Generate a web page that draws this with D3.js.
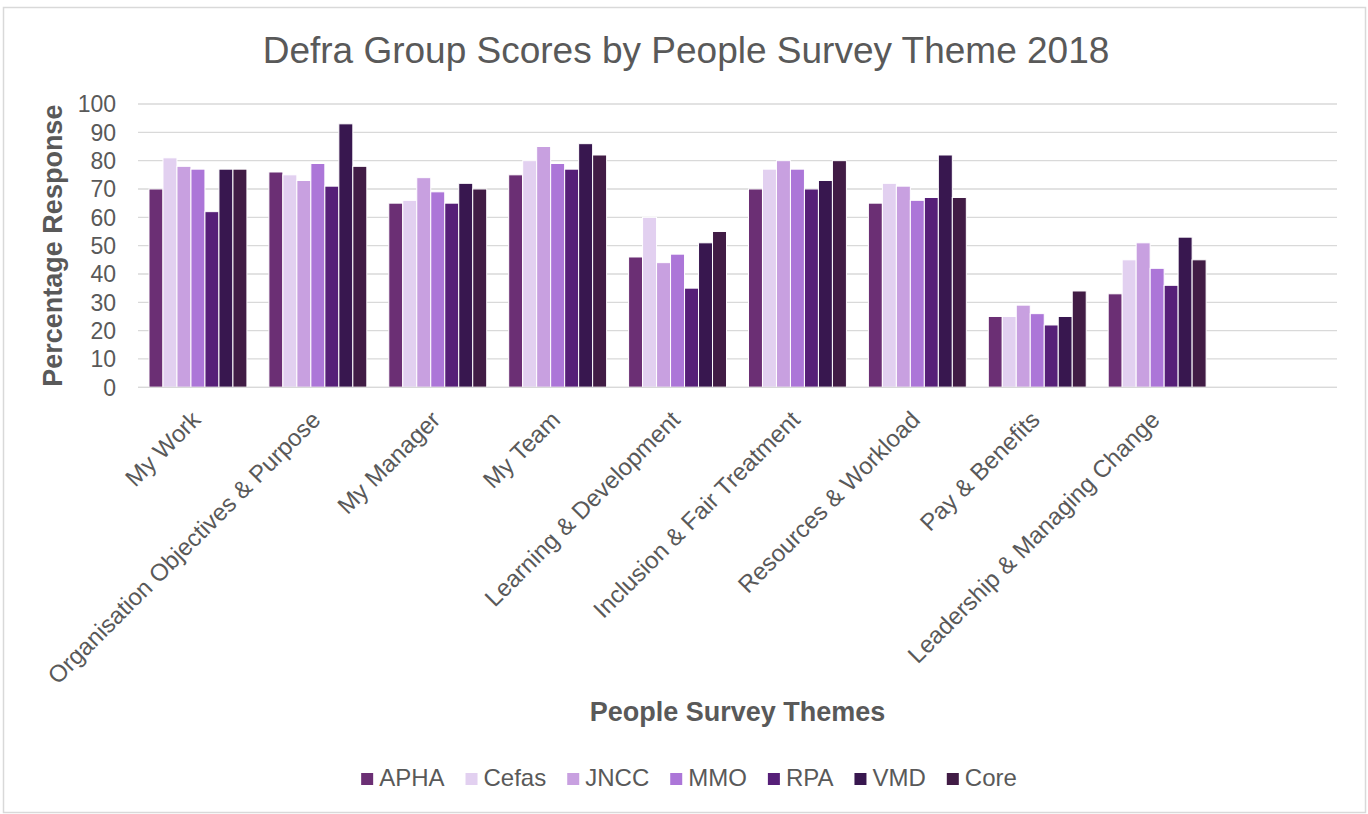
<!DOCTYPE html>
<html>
<head>
<meta charset="utf-8">
<script src="https://cdn.jsdelivr.net/npm/d3@7"></script>
<style>
  body { margin: 0; background: #fff; }
  text { font-family: "Liberation Sans", Arial, sans-serif; fill: #595959; }
</style>
</head>
<body>
<div id="chart"></div>
<script>

// themes on the x axis (Excel range had one trailing empty row)
var themes = ["My Work", "Organisation Objectives & Purpose", "My Manager", "My Team",
	"Learning & Development", "Inclusion & Fair Treatment", "Resources & Workload",
	"Pay & Benefits", "Leadership & Managing Change"]

var series = ["APHA", "Cefas", "JNCC", "MMO", "RPA", "VMD", "Core"]

var colours = ["#6b2f74", "#e2d0f0", "#c8a0e0", "#ac76d8", "#561f78", "#38174f", "#411c45"]

var apha  = [70, 76, 65, 75, 46, 70, 65, 25, 33]
var cefas = [81, 75, 66, 80, 60, 77, 72, 25, 45]
var jncc  = [78, 73, 74, 85, 44, 80, 71, 29, 51]
var mmo   = [77, 79, 69, 79, 47, 77, 66, 26, 42]
var rpa   = [62, 71, 65, 77, 35, 70, 67, 22, 36]
var vmd   = [77, 93, 72, 86, 51, 73, 82, 25, 53]
var core  = [77, 78, 70, 82, 55, 80, 67, 34, 45]

var yTicks = [0, 10, 20, 30, 40, 50, 60, 70, 80, 90, 100]

var values = [apha, cefas, jncc, mmo, rpa, vmd, core]

var width = 1368
var height = 814

var margin = { top: 104, right: 31, bottom: 427, left: 138 }

var svg = d3.select("#chart")
	.append("svg")
	.attr("width", width)
	.attr("height", height)

// chart area border
svg.append("rect")
	.attr("x", 3.5)
	.attr("y", 7.5)
	.attr("width", width - 6)
	.attr("height", height - 9)
	.attr("fill", "#fff")
	.attr("stroke", "#d9d9d9")
	.attr("stroke-width", 1.5)

var x0 = d3.scaleBand()
	.domain(themes.concat([""]))
	.range([margin.left, width - margin.right])
	.paddingInner(0)
	.paddingOuter(0)

var x1 = d3.scaleBand()
	.domain(series)
	.range([0, x0.bandwidth()])
	.paddingInner(0)
	.paddingOuter(0.785)

var y = d3.scaleLinear()
	.domain([0, 100])
	.range([height - margin.bottom + 0.3, margin.top])

// gridlines
svg.append("g")
	.selectAll("line")
	.data(yTicks)
	.join("line")
	.attr("x1", margin.left)
	.attr("x2", width - margin.right)
	.attr("y1", d => y(d))
	.attr("y2", d => y(d))
	.attr("stroke", "#d9d9d9")
	.attr("stroke-width", 1.3)

// y tick labels
svg.append("g")
	.selectAll("text")
	.data(yTicks)
	.join("text")
	.attr("x", margin.left - 22)
	.attr("y", d => y(d))
	.attr("dy", "0.36em")
	.attr("text-anchor", "end")
	.attr("font-size", 23)
	.text(d => d)

// bars
var groups = svg.append("g")
	.selectAll("g")
	.data(themes)
	.join("g")
	.attr("transform", d => `translate(${x0(d)},0)`)

groups.selectAll("rect")
	.data((d, i) => series.map((s, j) => ({ s: s, v: values[j][i], c: colours[j] })))
	.join("rect")
	.attr("x", d => x1(d.s))
	.attr("y", d => y(d.v))
	.attr("width", x1.bandwidth())
	.attr("height", d => y(0) - y(d.v))
	.attr("fill", d => d.c)
	.attr("stroke", "#fff")
	.attr("stroke-width", 1)

// baseline
svg.append("line")
	.attr("x1", margin.left)
	.attr("x2", width - margin.right)
	.attr("y1", y(0))
	.attr("y2", y(0))
	.attr("stroke", "#d9d9d9")
	.attr("stroke-width", 1.3)

// category labels
svg.append("g")
	.selectAll("text")
	.data(themes)
	.join("text")
	.attr("text-anchor", "end")
	.attr("font-size", 24)
	.attr("transform", d => `translate(${x0(d) + x0.bandwidth() / 2 + 4},${y(0) + 34}) rotate(-45)`)
	.text(d => d)

// title
svg.append("text")
	.attr("x", 686)
	.attr("y", 63)
	.attr("text-anchor", "middle")
	.attr("font-size", 37)
	.text("Defra Group Scores by People Survey Theme 2018")

// axis titles
svg.append("text")
	.attr("transform", `translate(62,${(y(0) + y(100)) / 2}) rotate(-90)`)
	.attr("text-anchor", "middle")
	.attr("font-size", 27)
	.attr("font-weight", "bold")
	.text("Percentage Response")

svg.append("text")
	.attr("x", (margin.left + width - margin.right) / 2)
	.attr("y", 721)
	.attr("text-anchor", "middle")
	.attr("font-size", 27)
	.attr("font-weight", "bold")
	.text("People Survey Themes")

// legend
var legend = svg.append("g")

var items = legend.selectAll("g")
	.data(series)
	.join("g")

items.append("rect")
	.attr("y", 773)
	.attr("width", 12)
	.attr("height", 12)
	.attr("fill", (d, i) => colours[i])

items.append("text")
	.attr("x", 18)
	.attr("y", 786)
	.attr("font-size", 24)
	.text(d => d)

var pos = 0
items.each(function() {
	var w = 18 + d3.select(this).select("text").node().getComputedTextLength()
	d3.select(this).attr("transform", `translate(${pos},0)`)
	pos += w + 21
})
pos -= 21
legend.attr("transform", `translate(${689 - pos / 2},0)`)

</script>
</body>
</html>
